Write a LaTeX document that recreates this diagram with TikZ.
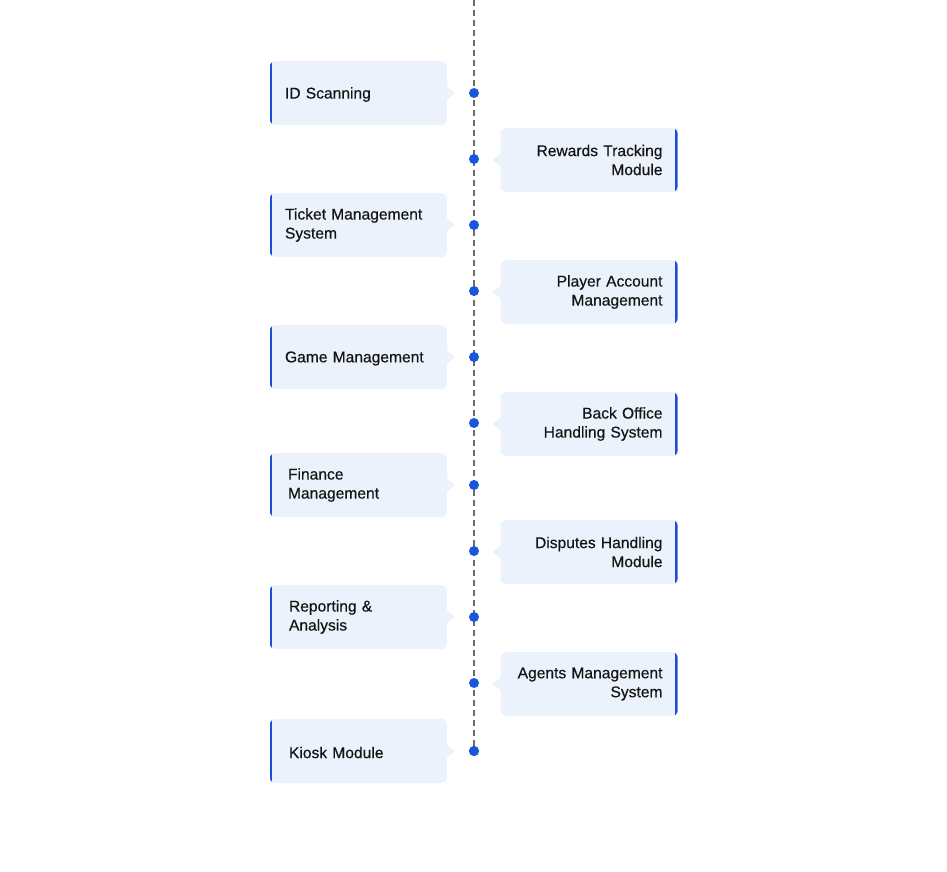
\documentclass[tikz,border=0pt]{standalone}
\usepackage{fontspec}
\setmainfont{Liberation Sans}[FakeBold=0.4]
\definecolor{boxfill}{HTML}{EBF2FB}
\definecolor{accent}{HTML}{1B4FD8}
\definecolor{dotblue}{HTML}{1A55DA}
\definecolor{linegray}{HTML}{6B6B6B}
\definecolor{ink}{HTML}{141414}
\tikzset{
  box/.style={fill=boxfill, rounded corners=6pt, minimum width=177pt, minimum height=64pt, inner sep=0pt},
  btext/.style={inner sep=0pt, text width=147pt, text=ink, font=\fontsize{15.6}{19}\selectfont},
  ltext/.style={btext, align=left, anchor=west},
  rtext/.style={btext, align=right, anchor=east},
  tldot/.style={circle, fill=dotblue, inner sep=0pt, minimum size=10pt},
  timeline/.style={draw=linegray, line width=2pt, dash pattern=on 6pt off 4pt}
}
% #1 name, #2 y, #3 text shift, #4 text
\newcommand{\mkleft}[4]{%
  \node[box] (#1) at (358.5,#2) {};
  \fill[boxfill] ([yshift=-6pt]#1.east) -- ([xshift=8pt]#1.east) -- ([yshift=6pt]#1.east) -- cycle;
  \begin{scope}
    \clip[rounded corners=6pt] (#1.north west) rectangle (#1.south east);
    \fill[accent] (#1.north west) rectangle ([xshift=2.5pt]#1.south west);
  \end{scope}
  \node[ltext] (#1t) at ([xshift=15pt,yshift=#3]#1.west) {#4};
}
\newcommand{\mkright}[4]{%
  \node[box] (#1) at (589,#2) {};
  \fill[boxfill] ([yshift=-6pt]#1.west) -- ([xshift=-8pt]#1.west) -- ([yshift=6pt]#1.west) -- cycle;
  \begin{scope}
    \clip[rounded corners=6pt] (#1.north west) rectangle (#1.south east);
    \fill[accent] ([xshift=-2.5pt]#1.north east) rectangle (#1.south east);
  \end{scope}
  \node[rtext] (#1t) at ([xshift=-15pt,yshift=#3]#1.east) {#4};
}
\begin{document}
\begin{tikzpicture}[x=1pt,y=-1pt]
\useasboundingbox (0,0) rectangle (947,871);
\coordinate (top) at (474,0);
\node[tldot] (d11) at (474,751) {};
\draw[timeline] (top) -- (d11.center);
\mkleft{b1}{93}{-1.5pt}{ID Scanning}
\mkright{b2}{160}{0pt}{Rewards Tracking\\Module}
\mkleft{b3}{225}{0pt}{Ticket Management\\System}
\mkright{b4}{292}{0pt}{Player Account\\Management}
\mkleft{b5}{357}{-1.5pt}{Game Management}
\mkright{b6}{424}{0pt}{Back Office\\Handling System}
\mkleft{b7}{485}{0pt}{\hspace*{3pt}Finance\\\hspace*{3pt}Management}
\mkright{b8}{552}{0pt}{Disputes Handling\\Module}
\mkleft{b9}{617}{0pt}{\hspace*{4pt}Reporting \&\\\hspace*{4pt}Analysis}
\mkright{b10}{684}{0pt}{Agents Management\\System}
\mkleft{b11}{751}{-1.5pt}{\hspace*{4pt}Kiosk Module}
\node[tldot] (d1) at (474,93) {};
\node[tldot] (d2) at (474,159) {};
\node[tldot] (d3) at (474,225) {};
\node[tldot] (d4) at (474,291) {};
\node[tldot] (d5) at (474,357) {};
\node[tldot] (d6) at (474,423) {};
\node[tldot] (d7) at (474,485) {};
\node[tldot] (d8) at (474,551) {};
\node[tldot] (d9) at (474,617) {};
\node[tldot] (d10) at (474,683) {};
\node[tldot] at (d11) {};
\end{tikzpicture}
\end{document}
